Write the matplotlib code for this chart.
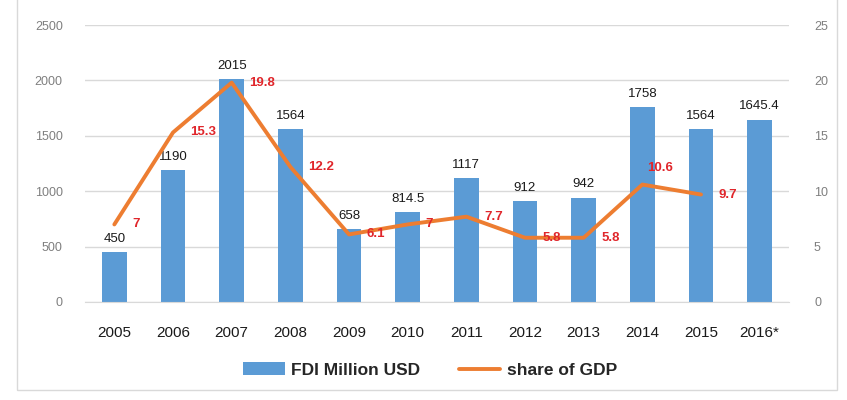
import matplotlib.pyplot as plt
import numpy as np
from matplotlib.patches import Rectangle

years = ['2005', '2006', '2007', '2008', '2009', '2010', '2011', '2012',
         '2013', '2014', '2015', '2016*']
fdi = [450, 1190, 2015, 1564, 658, 814.5, 1117, 912, 942, 1758, 1564, 1645.4]
fdi_labels = ['450', '1190', '2015', '1564', '658', '814.5', '1117', '912',
              '942', '1758', '1564', '1645.4']
share = [7, 15.3, 19.8, 12.2, 6.1, 7, 7.7, 5.8, 5.8, 10.6, 9.7]
share_labels = ['7', '15.3', '19.8', '12.2', '6.1', '7', '7.7', '5.8', '5.8',
                '10.6', '9.7']

plt.rcParams['font.family'] = ['Liberation Sans', 'DejaVu Sans']

fig = plt.figure(figsize=(8.47, 4.0), dpi=100)
# thin frame round the chart
fig.patches.append(Rectangle((17 / 847, 10 / 400), 820 / 847, 1.0, transform=fig.transFigure,
                             fill=False, edgecolor='#d9d9d9', linewidth=1))

ax = fig.add_axes([85 / 847, 98 / 400, 704 / 847, 277 / 400])
x = np.arange(len(years))

bars = ax.bar(x, fdi, width=0.42, color='#5b9bd5', zorder=2, label='FDI Million USD')
ax.set_xlim(-0.5, len(years) - 0.5)
ax.set_ylim(0, 2500)
ax.set_yticks(np.arange(0, 2501, 500))
ax.grid(axis='y', color='#d9d9d9', linewidth=1, zorder=0)
for s in ['top', 'left', 'right']:
    ax.spines[s].set_visible(False)
ax.spines['bottom'].set_color('#d9d9d9')
ax.tick_params(axis='y', length=0, labelsize=9, labelcolor='#7f7f7f', pad=16)
ax.tick_params(axis='x', length=0, labelsize=11, labelcolor='#1a1a1a', pad=17)
ax.set_xticks(x)
ax.set_xticklabels(years)

for xi, v, lab in zip(x, fdi, fdi_labels):
    ax.text(xi, v + 65, lab, ha='center', va='bottom', fontsize=9.5,
            color='#1a1a1a', zorder=5)

ax2 = ax.twinx()
ax2.set_ylim(0, 25)
ax2.set_yticks(np.arange(0, 26, 5))
for s in ax2.spines.values():
    s.set_visible(False)
ax2.tick_params(axis='y', length=0, labelsize=9, labelcolor='#7f7f7f', pad=18)
line, = ax2.plot(x[:len(share)], share, color='#ed7d31', linewidth=2.8,
                 solid_capstyle='round', zorder=3, label='share of GDP')

for xi, v, lab in zip(x[:len(share)], share, share_labels):
    if lab == '10.6':
        ax2.text(xi + 0.08, v + 1.5, lab, ha='left', va='center', fontsize=9.5,
                 color='#e0262b', fontweight='bold')
    else:
        ax2.text(xi + 0.3, v, lab, ha='left', va='center', fontsize=9.5,
                 color='#e0262b', fontweight='bold')

fig.legend([bars, line], ['FDI Million USD', 'share of GDP'], loc='center',
           bbox_to_anchor=(0.508, 30 / 400), ncol=2, frameon=False,
           prop={'size': 12.5, 'weight': 'bold'},
           handlelength=2.4, columnspacing=2.2, handletextpad=0.4,
           labelcolor='#262626')

fig.savefig('out.png', dpi=100)
